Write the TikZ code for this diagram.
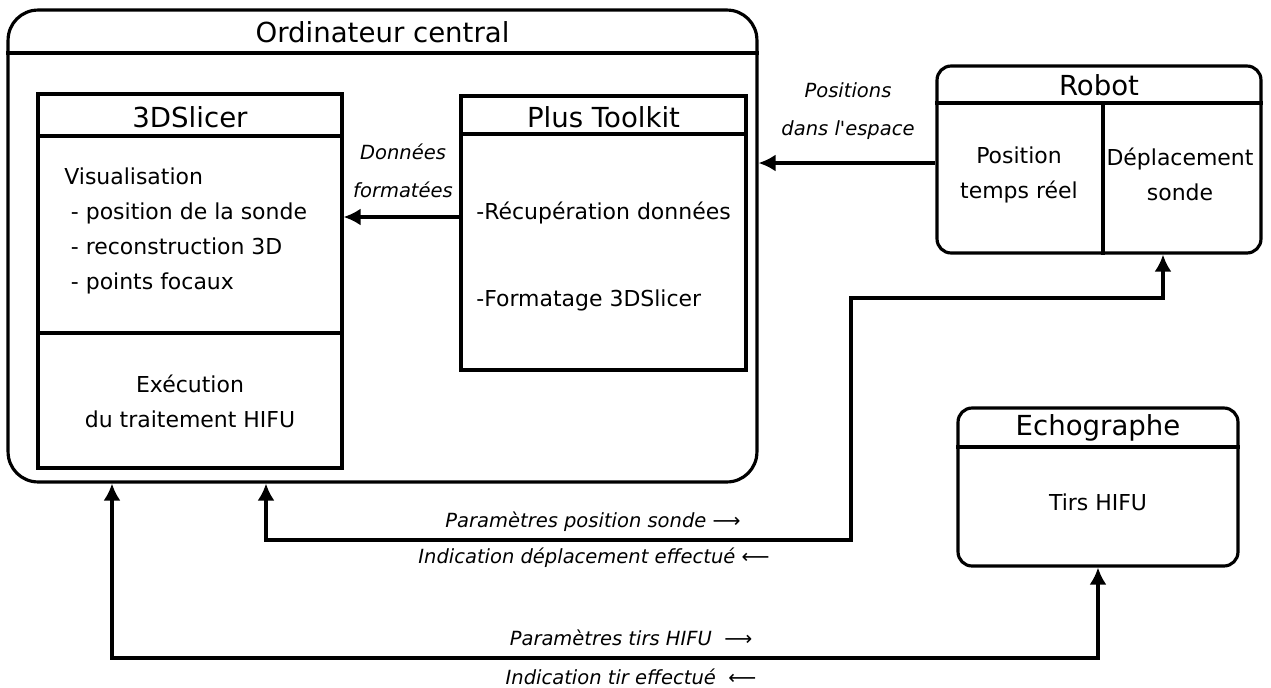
\documentclass[tikz,border=0pt]{standalone}
\usepackage{fontspec}
\setmainfont{DejaVu Sans}
\usetikzlibrary{arrows.meta,positioning,calc}

\begin{document}
\begin{tikzpicture}[
    x=0.02cm, y=-0.02cm,
    line width=1.8pt,
    box/.style={rectangle, draw, line width=1.8pt, inner sep=0pt},
    roundbox/.style={box, rounded corners=0.28cm},
    title/.style={font=\fontsize{15.7}{19}\selectfont},
    txt/.style={font=\fontsize{12.5}{19.9}\selectfont, inner sep=1pt},
    lbl/.style={font=\fontsize{11.1}{22}\selectfont\itshape, inner sep=1pt},
    conn/.style={-{Latex[length=0.34cm,width=0.34cm]}, line width=1.8pt},
    both/.style={{Latex[length=0.34cm,width=0.34cm]}-{Latex[length=0.34cm,width=0.34cm]}, line width=1.8pt}
]
    \useasboundingbox (0,0) rectangle (1271,687);

    % Ordinateur central
    \node[roundbox, rounded corners=0.6cm, minimum width=14.98cm, minimum height=9.44cm] (ord) at (382.5,246) {};
    \node[title] (ordtitle) at (382.5,32) {Ordinateur central};
    \draw (ord.west |- 0,53) -- (ord.east |- 0,53);

    % 3DSlicer
    \node[box, minimum width=6.08cm, minimum height=7.48cm] (slicer) at (190,281) {};
    \node[title] (slicertitle) at (190,117) {3DSlicer};
    \draw (slicer.west |- 0,136) -- (slicer.east |- 0,136);
    \draw (slicer.west |- 0,333) -- (slicer.east |- 0,333);
    \node[txt, align=left, anchor=west] (visu) at (61,230.5)
        {Visualisation\\\hspace*{0.3em}- position de la sonde\\\hspace*{0.3em}- reconstruction 3D\\\hspace*{0.3em}- points focaux};
    \node[txt, align=center] (exec) at (190,401.5) {Exécution\\du traitement HIFU};

    % Plus Toolkit
    \node[box, minimum width=5.7cm, minimum height=5.48cm] (plus) at (603.5,233) {};
    \node[title] (plustitle) at (603.5,117) {Plus Toolkit};
    \draw (plus.west |- 0,134) -- (plus.east |- 0,134);
    \node[txt, anchor=west] (recup) at (473,213) {-Récupération données};
    \node[txt, anchor=west] (format) at (473,300) {-Formatage 3DSlicer};

    % Robot
    \node[roundbox, minimum width=6.48cm, minimum height=3.74cm] (robot) at (1099,159.5) {};
    \node[title] (robottitle) at (1099,85) {Robot};
    \draw (robot.west |- 0,103) -- (robot.east |- 0,103);
    \draw (1103,103) -- (robot.south -| 1103,0);
    \node[txt, align=center] (pos) at (1019,174.5) {Position\\temps réel};
    \node[txt, align=center] (depl) at (1180,174.5) {Déplacement\\sonde};

    % Echographe
    \node[roundbox, minimum width=5.6cm, minimum height=3.16cm] (echo) at (1098,487) {};
    \node[title] (echotitle) at (1098,428) {Echographe};
    \draw (echo.west |- 0,447) -- (echo.east |- 0,447);
    \node[txt] (tirs) at (1098,502) {Tirs HIFU};

    % Edges
    \draw[conn] (plus.west |- 0,217) -- (slicer.east |- 0,217);
    \node[lbl, align=center] (donnees) at (403,171) {Données\\formatées};
    \draw[conn] (robot.west |- 0,163) -- (ord.east |- 0,163);
    \node[lbl, align=center] (espace) at (848,111) {Positions\\dans l\textquotesingle espace};

    \draw[both] (ord.south -| 266,0) |- (851,540) -- (851,298) -| (robot.south -| 1163,0);
    \node[lbl] (paramsonde) at (593,522) {Paramètres position sonde {\upshape ⟶}};
    \node[lbl] (indicdepl) at (594,558) {Indication déplacement effectué {\upshape ⟵}};

    \draw[both] (ord.south -| 112,0) |- (1098,658) -- (echo.south);
    \node[lbl] (paramtirs) at (631,638) {Paramètres tirs HIFU \ {\upshape ⟶}};
    \node[lbl] (indictir) at (631,677) {Indication tir effectué \ {\upshape ⟵}};
\end{tikzpicture}
\end{document}
